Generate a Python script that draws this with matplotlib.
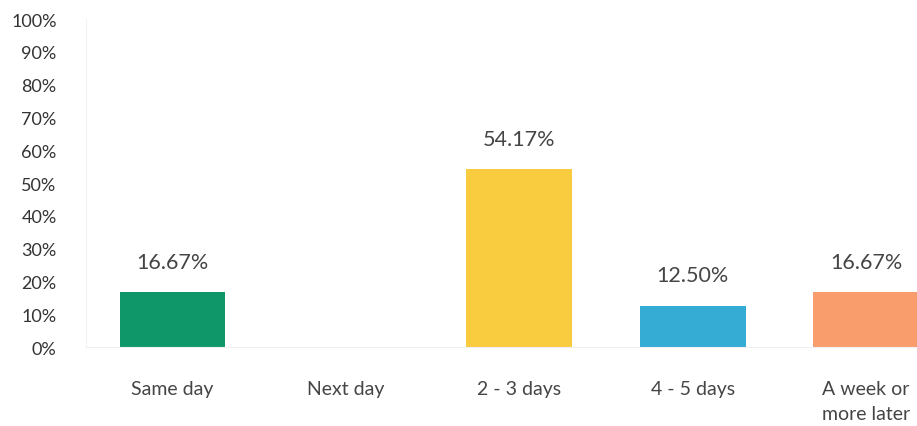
import matplotlib.pyplot as plt
from matplotlib.ticker import MultipleLocator, PercentFormatter

categories = ['Same day', 'Next day', '2 - 3 days', '4 - 5 days', 'A week or\nmore later']
shares = [16.67, 0.0, 54.17, 12.50, 16.67]
bar_colors = ['#0f976a', '#7f7f7f', '#f9cc40', '#35acd4', '#f99d6d']

plt.rcParams['font.family'] = ['Lato', 'DejaVu Sans']

dpi = 100
fig = plt.figure(figsize=(917 / dpi, 427 / dpi), dpi=dpi)
# plot area runs past the right edge of the figure
ax = fig.add_axes([0.0935, 0.185, 0.9455, 0.768])

x = range(len(categories))
ax.bar(x, shares, width=0.61, color=bar_colors, zorder=2)

for xi, v in zip(x, shares):
    if v > 0:
        ax.text(xi, v + 6.3, f'{v:.2f}%', ha='center', va='bottom',
                fontsize=15.5, color='#454545')

ax.set_xlim(-0.5, len(categories) - 0.5)
ax.set_ylim(0, 100)
ax.yaxis.set_major_locator(MultipleLocator(10))
ax.yaxis.set_major_formatter(PercentFormatter(decimals=0))
ax.set_xticks(list(x))
ax.set_xticklabels(categories, linespacing=1.55)

ax.tick_params(axis='y', length=0, pad=21, labelsize=13, labelcolor='#333333')
ax.tick_params(axis='x', length=0, pad=24, labelsize=14, labelcolor='#454545')
for lbl in ax.get_yticklabels():
    lbl.set_horizontalalignment('right')

for side in ['top', 'right']:
    ax.spines[side].set_visible(False)
ax.spines['left'].set_color('#f2f2f2')
ax.spines['bottom'].set_color('#f0f0f0')

fig.savefig('out.png', dpi=dpi)
